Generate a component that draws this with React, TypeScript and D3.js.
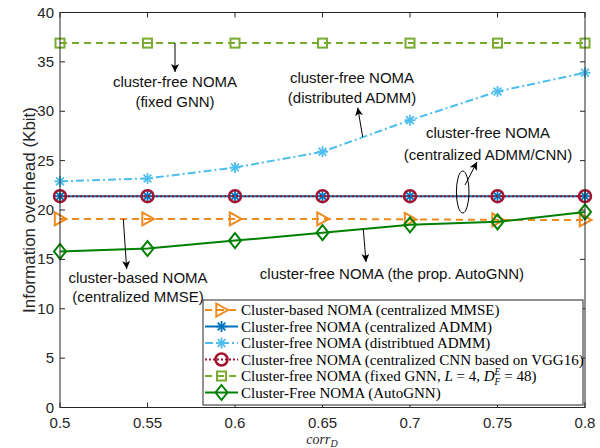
import React from "react";
import * as d3 from "d3";

const xVals = [0.5, 0.55, 0.6, 0.65, 0.7, 0.75, 0.8];
const mmse = [19.1, 19.1, 19.1, 19.1, 19.05, 19.0, 19.0];
const centralADMM = [21.4, 21.4, 21.4, 21.4, 21.4, 21.4, 21.4];
const distADMM = [22.9, 23.2, 24.3, 25.9, 29.1, 32.0, 33.9];
const centralCNN = [21.4, 21.4, 21.4, 21.4, 21.4, 21.4, 21.4];
const fixedGNN = [36.9, 36.9, 36.9, 36.9, 36.9, 36.9, 36.9];
const autoGNN = [15.8, 16.1, 16.9, 17.7, 18.5, 18.8, 19.8];

const xTicks = [0.5, 0.55, 0.6, 0.65, 0.7, 0.75, 0.8];
const yTicks = [0, 5, 10, 15, 20, 25, 30, 35, 40];

const W = 600, H = 448;
const L = 60, R = 585, T = 12.5, B = 407.5;

type Marker = "triR" | "star" | "circle" | "square" | "diamond";
interface Series { name: string; values: number[]; color: string; dash: string; marker: Marker; width: number; }

const series: Series[] = [
  { name: "mmse", values: mmse, color: "#EE8A1E", dash: "7,5", marker: "triR", width: 2 },
  { name: "cadmm", values: centralADMM, color: "#0072BD", dash: "", marker: "star", width: 2 },
  { name: "dadmm", values: distADMM, color: "#4DBEEE", dash: "8,3,2,3", marker: "star", width: 2 },
  { name: "cnn", values: centralCNN, color: "#A2142F", dash: "2,2", marker: "circle", width: 2 },
  { name: "fixed", values: fixedGNN, color: "#77AC30", dash: "7,5", marker: "square", width: 2 },
  { name: "auto", values: autoGNN, color: "#008000", dash: "", marker: "diamond", width: 2 },
];

function MarkerShape({ m, x, y, color }: { m: Marker; x: number; y: number; color: string }) {
  const sw = 2;
  if (m === "triR") {
    const s = 6.5;
    return <polygon points={`${x - s * 0.8},${y - s} ${x + s},${y} ${x - s * 0.8},${y + s}`} fill="none" stroke={color} strokeWidth={sw} />;
  }
  if (m === "star") {
    const s = 5.5, d = s * 0.707;
    return (
      <g stroke={color} strokeWidth={1.8}>
        <line x1={x - s} y1={y} x2={x + s} y2={y} />
        <line x1={x} y1={y - s} x2={x} y2={y + s} />
        <line x1={x - d} y1={y - d} x2={x + d} y2={y + d} />
        <line x1={x - d} y1={y + d} x2={x + d} y2={y - d} />
      </g>
    );
  }
  if (m === "circle") return <circle cx={x} cy={y} r={6} fill="none" stroke={color} strokeWidth={2.5} />;
  if (m === "square") return <rect x={x - 4.5} y={y - 4.5} width={9} height={9} fill="none" stroke={color} strokeWidth={2} />;
  const w = 6, h = 7.5;
  return <polygon points={`${x},${y - h} ${x + w},${y} ${x},${y + h} ${x - w},${y}`} fill="none" stroke={color} strokeWidth={2} />;
}

const annotations = [
  { lines: ["cluster-free NOMA", "(fixed GNN)"], x: 175, y: [87, 107] },
  { lines: ["cluster-free NOMA", "(distributed ADMM)"], x: 352, y: [83, 103] },
  { lines: ["cluster-free NOMA", "(centralized ADMM/CNN)"], x: 488, y: [138, 160] },
  { lines: ["cluster-based NOMA", "(centralized MMSE)"], x: 138, y: [283, 302] },
  { lines: ["cluster-free NOMA (the prop. AutoGNN)"], x: 392, y: [279] },
];
const arrows = [
  [175, 43, 175, 72],
  [362.7, 137, 357.7, 107.7],
  [465, 185, 477, 162],
  [123.3, 219, 126.7, 269],
  [363.3, 229, 366, 262],
];

export default function App() {
  const x = d3.scaleLinear().domain([0.5, 0.8]).range([L, R]);
  const y = d3.scaleLinear().domain([0, 40]).range([B, T]);
  const line = d3.line<number>().x((_, i) => x(xVals[i])).y((v) => y(v));

  const legX = 203, legY = 300, legW = 380, legH = 105;
  const rowBase = [315, 331.5, 348, 364.5, 381, 397.5];

  const legendText: React.ReactNode[] = [
    "Cluster-based NOMA (centralized MMSE)",
    "Cluster-free NOMA (centralized ADMM)",
    "Cluster-free NOMA (distribtued ADMM)",
    "Cluster-free NOMA (centralized CNN based on VGG16)",
    <>
      Cluster-free NOMA (fixed GNN, <tspan fontStyle="italic">L</tspan> = 4, <tspan fontStyle="italic">D</tspan>
      <tspan fontStyle="italic" fontSize="9.5" dy="-6.5">E</tspan>
      <tspan fontStyle="italic" fontSize="9.5" dy="10" dx="-6">F</tspan>
      <tspan dy="-3.5" dx="4">= 48)</tspan>
    </>,
    "Cluster-Free NOMA (AutoGNN)",
  ];

  return (
    <svg width={W} height={H} style={{ position: "absolute", left: 0, top: 0, background: "#fff" }}>
      <defs>
        <marker id="ah" viewBox="0 0 10 10" refX="10" refY="5" markerWidth="9" markerHeight="8" markerUnits="userSpaceOnUse" orient="auto">
          <path d="M0,0 L10,5 L0,10 L2.5,5 z" fill="#000" />
        </marker>
      </defs>
      <rect x={L} y={T} width={R - L} height={B - T} fill="#fff" />
      {series.map((s) => (
        <g key={s.name}>
          <path d={line(s.values) || ""} fill="none" stroke={s.color} strokeWidth={s.width} strokeDasharray={s.dash} />
          {s.values.map((v, i) => (
            <MarkerShape key={i} m={s.marker} x={x(xVals[i])} y={y(v)} color={s.color} />
          ))}
        </g>
      ))}
      <g stroke="#262626" strokeWidth={1} fill="none">
        <rect x={L} y={T} width={R - L} height={B - T} />
        {xTicks.map((t) => (
          <g key={t}>
            <line x1={x(t)} x2={x(t)} y1={B} y2={B - 5} />
            <line x1={x(t)} x2={x(t)} y1={T} y2={T + 5} />
          </g>
        ))}
        {yTicks.map((t) => (
          <g key={t}>
            <line x1={L} x2={L + 5} y1={y(t)} y2={y(t)} />
            <line x1={R} x2={R - 5} y1={y(t)} y2={y(t)} />
          </g>
        ))}
      </g>
      <g fontFamily="Liberation Sans, Arial, sans-serif" fontSize="15" fill="#262626">
        {xTicks.map((t) => (
          <text key={t} x={x(t)} y={428} textAnchor="middle">{String(t)}</text>
        ))}
        {yTicks.map((t) => (
          <text key={t} x={L - 6} y={y(t) + 5} textAnchor="end">{t}</text>
        ))}
        <text transform={`translate(35,${(T + B) / 2}) rotate(-90)`} textAnchor="middle" fontSize="17">Information overhead (Kbit)</text>
      </g>
      <text x={322} y={444} textAnchor="middle" fontFamily="Liberation Serif, serif" fontStyle="italic" fontSize="14" fill="#262626">
        corr<tspan fontSize="10" dy="3">D</tspan>
      </text>
      <g fontFamily="Liberation Sans, Arial, sans-serif" fontSize="15" fill="#111">
        {annotations.map((a, i) =>
          a.lines.map((l, j) => (
            <text key={`${i}-${j}`} x={a.x} y={a.y[j]} textAnchor="middle">{l}</text>
          ))
        )}
      </g>
      <g stroke="#000" strokeWidth={1}>
        {arrows.map((a, i) => (
          <line key={i} x1={a[0]} y1={a[1]} x2={a[2]} y2={a[3]} markerEnd="url(#ah)" />
        ))}
      </g>
      <ellipse cx={462.7} cy={192} rx={6.3} ry={21} fill="none" stroke="#000" strokeWidth={1} />
      <rect x={legX} y={legY} width={legW} height={legH} fill="#fff" stroke="#262626" strokeWidth={1} />
      {series.map((s, i) => {
        const ly = rowBase[i] - 5;
        return (
          <g key={s.name}>
            <line x1={205} x2={238} y1={ly} y2={ly} stroke={s.color} strokeWidth={s.width} strokeDasharray={s.dash} />
            <MarkerShape m={s.marker} x={221.5} y={ly} color={s.color} />
            <text x={241} y={rowBase[i]} fontFamily="Liberation Serif, serif" fontSize="15" fill="#000">{legendText[i]}</text>
          </g>
        );
      })}
    </svg>
  );
}
